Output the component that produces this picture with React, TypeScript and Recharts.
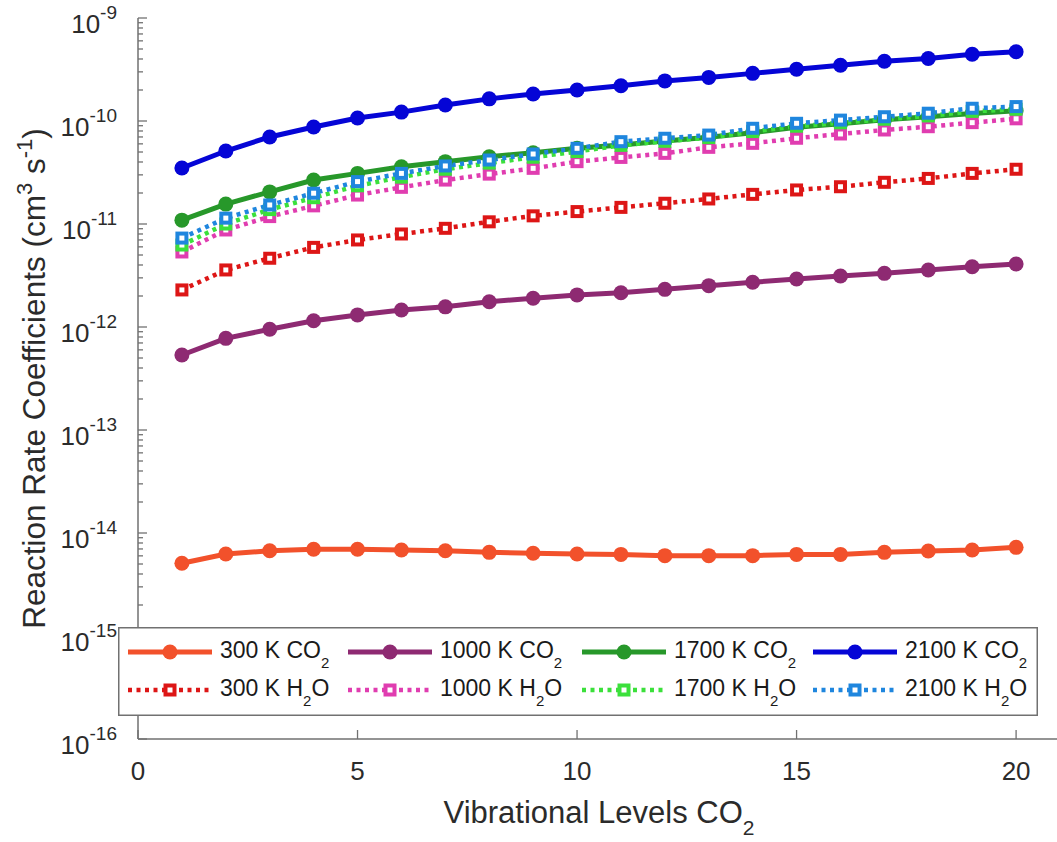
import { LineChart, Line, XAxis, YAxis, Legend } from "recharts";

// vibrational level index (x)
const levels = [1, 2, 3, 4, 5, 6, 7, 8, 9, 10, 11, 12, 13, 14, 15, 16, 17, 18, 19, 20];

// rate coefficients, cm^3 s^-1
const co2_300K = [5.08e-15, 6.25e-15, 6.73e-15, 6.95e-15, 6.95e-15, 6.84e-15, 6.73e-15, 6.49e-15, 6.35e-15, 6.25e-15, 6.2e-15, 6.03e-15, 6.03e-15, 6.03e-15, 6.2e-15, 6.2e-15, 6.49e-15, 6.68e-15, 6.84e-15, 7.26e-15];
const co2_1000K = [5.35e-13, 7.76e-13, 9.5e-13, 1.15e-12, 1.31e-12, 1.46e-12, 1.57e-12, 1.76e-12, 1.9e-12, 2.05e-12, 2.15e-12, 2.32e-12, 2.52e-12, 2.72e-12, 2.92e-12, 3.13e-12, 3.32e-12, 3.58e-12, 3.85e-12, 4.09e-12];
const co2_1700K = [1.09e-11, 1.56e-11, 2.05e-11, 2.67e-11, 3.1e-11, 3.6e-11, 4.03e-11, 4.5e-11, 4.92e-11, 5.43e-11, 5.85e-11, 6.4e-11, 6.95e-11, 7.7e-11, 8.7e-11, 9.4e-11, 1.03e-10, 1.1e-10, 1.18e-10, 1.26e-10];
const co2_2100K = [3.5e-11, 5.11e-11, 7.0e-11, 8.74e-11, 1.07e-10, 1.22e-10, 1.43e-10, 1.64e-10, 1.83e-10, 2.0e-10, 2.2e-10, 2.45e-10, 2.65e-10, 2.9e-10, 3.18e-10, 3.48e-10, 3.8e-10, 4.05e-10, 4.45e-10, 4.7e-10];
const h2o_300K = [2.29e-12, 3.58e-12, 4.65e-12, 5.93e-12, 7.0e-12, 8.0e-12, 9.08e-12, 1.05e-11, 1.2e-11, 1.32e-11, 1.45e-11, 1.59e-11, 1.75e-11, 1.94e-11, 2.14e-11, 2.3e-11, 2.54e-11, 2.77e-11, 3.1e-11, 3.4e-11];
const h2o_1000K = [5.35e-12, 8.75e-12, 1.18e-11, 1.5e-11, 1.91e-11, 2.27e-11, 2.67e-11, 3.05e-11, 3.47e-11, 4.03e-11, 4.43e-11, 4.85e-11, 5.55e-11, 6.07e-11, 6.8e-11, 7.48e-11, 8.18e-11, 8.8e-11, 9.64e-11, 1.05e-10];
const h2o_1700K = [6.25e-12, 1.0e-11, 1.38e-11, 1.8e-11, 2.35e-11, 2.85e-11, 3.4e-11, 3.9e-11, 4.45e-11, 5.05e-11, 5.8e-11, 6.35e-11, 6.9e-11, 7.9e-11, 8.9e-11, 9.6e-11, 1.04e-10, 1.12e-10, 1.24e-10, 1.3e-10];
const h2o_2100K = [7.3e-12, 1.14e-11, 1.53e-11, 1.99e-11, 2.58e-11, 3.1e-11, 3.66e-11, 4.18e-11, 4.78e-11, 5.43e-11, 6.3e-11, 6.8e-11, 7.3e-11, 8.5e-11, 9.5e-11, 1.02e-10, 1.1e-10, 1.19e-10, 1.33e-10, 1.38e-10];

const xTicks = [0, 5, 10, 15, 20];
const decades = [-16, -15, -14, -13, -12, -11, -10];
const mantissas = [1, 2, 3, 4, 5, 6, 7, 8, 9];

const yTicks = [...decades.flatMap((d) => mantissas.map((m) => m * Math.pow(10, d))), 1e-9];

const series = [
  { key: "co2_300", temp: "300", gas: "CO2", color: "#f2512b", values: co2_300K },
  { key: "co2_1000", temp: "1000", gas: "CO2", color: "#8e2a72", values: co2_1000K },
  { key: "co2_1700", temp: "1700", gas: "CO2", color: "#27982a", values: co2_1700K },
  { key: "co2_2100", temp: "2100", gas: "CO2", color: "#0505d6", values: co2_2100K },
  { key: "h2o_300", temp: "300", gas: "H2O", color: "#dd1616", values: h2o_300K },
  { key: "h2o_1000", temp: "1000", gas: "H2O", color: "#e03db0", values: h2o_1000K },
  { key: "h2o_1700", temp: "1700", gas: "H2O", color: "#3be03b", values: h2o_1700K },
  { key: "h2o_2100", temp: "2100", gas: "H2O", color: "#1f86de", values: h2o_2100K },
];

const data = levels.map((lv, i) => {
  const row: Record<string, number> = { level: lv };
  series.forEach((s) => (row[s.key] = s.values[i]));
  return row;
});

const FONT = '"Liberation Sans", Arial, Helvetica, sans-serif';
const AXIS = "#717171";
const TEXT = "#2b2b2b";
const DOTTED = "4 4.5";

const isMajor = (v: number) => {
  const e = Math.round(Math.log10(v));
  return Math.abs(v - Math.pow(10, e)) < 1e-3 * v;
};

const LeftTick = (props: any) => {
  const { x, y, payload } = props;
  const v = payload.value;
  const major = isMajor(v);
  const exp = Math.round(Math.log10(v));
  return (
    <g>
      <line x1={x} x2={x + (major ? 9 : 5)} y1={y} y2={y} stroke={AXIS} strokeWidth={1.3} />
      {major && (
        <text x={x - 21} y={y + 15} textAnchor="end" fill={TEXT} fontFamily={FONT}>
          <tspan fontSize={26}>10</tspan>
          <tspan fontSize={19} dy={-14}>{exp}</tspan>
        </text>
      )}
    </g>
  );
};

const RightTick = (props: any) => {
  const { x, y, payload } = props;
  const major = isMajor(payload.value);
  return <line x1={x} x2={x - (major ? 9 : 5)} y1={y} y2={y} stroke={AXIS} strokeWidth={1.3} />;
};

const BottomTick = (props: any) => {
  const { x, y, payload } = props;
  return (
    <g>
      <line x1={x} x2={x} y1={y} y2={y - 9} stroke={AXIS} strokeWidth={1.3} />
      <text x={x} y={y + 41} textAnchor="middle" fontSize={26} fill={TEXT} fontFamily={FONT}>
        {payload.value}
      </text>
    </g>
  );
};

const TopTick = (props: any) => {
  const { x, y } = props;
  return <line x1={x} x2={x} y1={y} y2={y + 9} stroke={AXIS} strokeWidth={1.3} />;
};

const xLabel = (props: any) => {
  const vb = props.viewBox;
  return (
    <text x={vb.x + vb.width / 2} y={vb.y + 84} textAnchor="middle" fill={TEXT} fontFamily={FONT}>
      <tspan fontSize={31}>Vibrational Levels CO</tspan>
      <tspan fontSize={21} dy={12}>2</tspan>
    </text>
  );
};

const yLabel = (props: any) => {
  const vb = props.viewBox;
  const cx = 45;
  const cy = vb.y + vb.height / 2;
  return (
    <text x={cx} y={cy} textAnchor="middle" fill={TEXT} fontFamily={FONT} transform={`rotate(-90, ${cx}, ${cy})`}>
      <tspan fontSize={31.5}>Reaction Rate Coefficients (cm</tspan>
      <tspan fontSize={22} dy={-13}>3</tspan>
      <tspan fontSize={31.5} dy={13}> s</tspan>
      <tspan fontSize={22} dy={-13}>-1</tspan>
      <tspan fontSize={31.5} dy={13}>)</tspan>
    </text>
  );
};

const squareDot = (color: string) => (props: any) => {
  const { cx, cy, index } = props;
  if (cx == null || cy == null) return <g key={index} />;
  return <rect key={index} x={cx - 4.5} y={cy - 4.5} width={9} height={9} fill="#fff" stroke={color} strokeWidth={4} />;
};

const legendCols = [10, 230, 464, 695];
const legendRows = [25, 63];

const renderLegend = (props: any) => {
  const payload: any[] = props.payload || [];
  return (
    <svg width={920} height={89} style={{ display: "block" }}>
      <rect x={0.75} y={0.75} width={918.5} height={87.5} fill="#fff" stroke={AXIS} strokeWidth={1.5} />
      {payload.map((item: any) => {
        const idx = series.findIndex((s) => s.key === item.dataKey);
        if (idx < 0) return null;
        const s = series[idx];
        const x0 = legendCols[idx % 4];
        const y0 = legendRows[idx < 4 ? 0 : 1];
        const h2o = s.gas === "H2O";
        return (
          <g key={s.key}>
            <line
              x1={x0}
              x2={x0 + 84}
              y1={y0}
              y2={y0}
              stroke={s.color}
              strokeWidth={h2o ? 4.5 : 5}
              strokeDasharray={h2o ? DOTTED : undefined}
            />
            {h2o ? (
              <rect x={x0 + 42 - 4.5} y={y0 - 4.5} width={9} height={9} fill="#fff" stroke={s.color} strokeWidth={4} />
            ) : (
              <circle cx={x0 + 42} cy={y0} r={7.5} fill={s.color} />
            )}
            <text x={x0 + 92} y={y0 + 6} fill="#1a1a1a" fontFamily={FONT} fontSize={23}>
              {h2o ? (
                <>
                  <tspan>{s.temp} K H</tspan>
                  <tspan fontSize={15} dy={10}>2</tspan>
                  <tspan dy={-10}>O</tspan>
                </>
              ) : (
                <>
                  <tspan>{s.temp} K CO</tspan>
                  <tspan fontSize={15} dy={10}>2</tspan>
                </>
              )}
            </text>
          </g>
        );
      })}
    </svg>
  );
};

export default function App() {
  return (
    <div
      style={{
        position: "absolute",
        left: 0,
        top: 0,
        width: 1057,
        height: 842,
        overflow: "hidden",
        background: "#fff",
        fontFamily: FONT,
      }}
    >
      <LineChart width={1070} height={842} data={data} margin={{ top: 18, right: 10, bottom: 0, left: 0 }}>
        <XAxis
          dataKey="level"
          type="number"
          domain={[0, 21]}
          ticks={xTicks}
          interval={0}
          height={103}
          tickSize={0}
          tickMargin={0}
          tick={BottomTick}
          axisLine={{ stroke: AXIS, strokeWidth: 1.5 }}
          label={xLabel}
        />
        <XAxis
          xAxisId="top"
          orientation="top"
          dataKey="level"
          type="number"
          domain={[0, 21]}
          ticks={xTicks}
          interval={0}
          height={0}
          tickSize={0}
          tickMargin={0}
          tick={TopTick}
          axisLine={{ stroke: AXIS, strokeWidth: 1.5 }}
        />
        <YAxis
          type="number"
          scale="log"
          domain={[1e-16, 1e-9]}
          allowDataOverflow
          ticks={yTicks}
          interval={0}
          width={138}
          tickSize={0}
          tickMargin={0}
          tick={LeftTick}
          axisLine={{ stroke: AXIS, strokeWidth: 1.5 }}
          label={yLabel}
        />
        <YAxis
          yAxisId="right"
          orientation="right"
          type="number"
          scale="log"
          domain={[1e-16, 1e-9]}
          allowDataOverflow
          ticks={yTicks}
          interval={0}
          width={0}
          tickSize={0}
          tickMargin={0}
          tick={RightTick}
          axisLine={{ stroke: AXIS, strokeWidth: 1.5 }}
        />
        <Legend
          layout="horizontal"
          verticalAlign="middle"
          align="center"
          content={renderLegend}
          wrapperStyle={{ position: "absolute", left: 118, top: 627, width: 920, height: 89, margin: 0 }}
        />
        {series.map((s) =>
          s.gas === "CO2" ? (
            <Line
              key={s.key}
              dataKey={s.key}
              type="linear"
              stroke={s.color}
              strokeWidth={5}
              dot={{ r: 7.5, fill: s.color, stroke: s.color, strokeWidth: 0 }}
              activeDot={false}
              isAnimationActive={false}
            />
          ) : (
            <Line
              key={s.key}
              dataKey={s.key}
              type="linear"
              stroke={s.color}
              strokeWidth={4.5}
              strokeDasharray={DOTTED}
              dot={squareDot(s.color)}
              activeDot={false}
              isAnimationActive={false}
            />
          )
        )}
      </LineChart>
    </div>
  );
}
